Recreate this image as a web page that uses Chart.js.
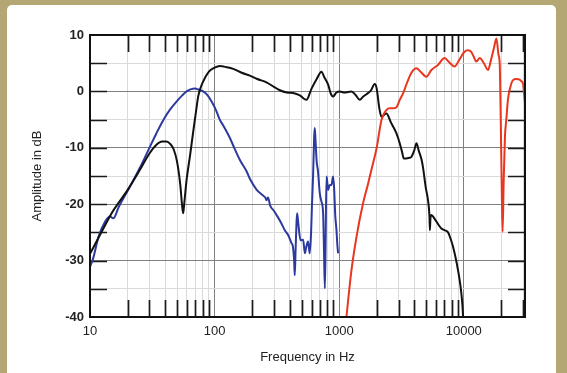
<!DOCTYPE html>
<html>
<head>
<meta charset="utf-8">
<script src="https://cdn.jsdelivr.net/npm/chart.js@4.4.0/dist/chart.umd.min.js"></script>
<style>
  html, body { margin: 0; padding: 0; }
  body { width: 567px; height: 373px; background: #b4a774; position: relative; overflow: hidden; }
  #panel { position: absolute; left: 7px; top: 5px; width: 549px; height: 380px; background: #fff; border-radius: 5px; }
  #chart { position: absolute; left: 0; top: 0; }
</style>
</head>
<body>
<div id="panel"></div>
<canvas id="chart" width="567" height="373"></canvas>
<script>
// tick labels
const xTickLabels = [10, 100, 1000, 10000];
const yTickLabels = [10, 0, -10, -20, -30, -40];

// black: main curve
const blackFreq = [10, 12.4, 15, 20, 25, 30, 34, 38, 41, 44, 47, 50, 53, 55, 56, 57, 59.6, 63.4, 67.5, 71, 74, 80, 90, 100, 110, 125, 141, 165, 192, 220, 261, 300, 334, 380, 427, 483, 546, 600, 660, 720, 760, 815, 860, 893, 950, 1012, 1100, 1254, 1350, 1463, 1560, 1654, 1800, 1929, 2000, 2100, 2183, 2393, 2600, 2877, 3061, 3200, 3300, 3600, 3800, 4000, 4170, 4350, 4570, 4710, 4950, 5163, 5300, 5346, 5400, 5495, 5800, 6200, 6610, 7000, 7480, 7800, 8190, 8600, 8990, 9300, 9560, 9760, 9900];
const blackDb = [-28.8, -24.9, -21.5, -17.5, -14.0, -11.0, -9.5, -8.9, -8.9, -9.3, -10.3, -12.5, -16.5, -20.5, -21.6, -20, -15.7, -11.5, -7, -3.5, -0.8, 1.5, 3.5, 4.2, 4.5, 4.3, 4.0, 3.3, 2.8, 2.2, 1.6, 0.8, 0.2, -0.2, -0.3, -0.7, -1.5, 0.5, 2.2, 3.5, 2.5, 1.2, -0.5, -0.9, -0.2, 0, -0.2, 0, -0.6, -1.5, -0.9, -0.5, 0.2, 1.3, 0.5, -3, -4.5, -3.9, -5.5, -7.4, -9.2, -10.8, -11.9, -11.8, -11.6, -10.5, -9.2, -10.5, -12.0, -13.5, -17, -19.3, -22, -24.6, -22.5, -21.9, -22.5, -23.5, -24.3, -24.6, -25, -26, -27.5, -29.5, -31.7, -33.7, -35.8, -38, -40.5];

// blue: woofer
const blueFreq = [10, 10.6, 11.7, 13.2, 14.5, 15.4, 17, 20.9, 25.2, 30.3, 34, 38.7, 44, 49.5, 55, 59.6, 65, 69.5, 75, 81, 88, 94.6, 103, 110, 117, 133, 145, 160, 181, 192, 217, 246, 255, 261, 268, 280, 300, 314, 340, 366, 390, 414, 425, 435, 440, 447, 455, 460, 470, 490, 514, 530, 545, 562, 572, 580, 595, 605, 617, 630, 637, 645, 660, 675, 699, 720, 743, 755, 767, 777, 791, 800, 815, 840, 867, 893, 910, 930, 951, 965, 980];
const blueDb = [-31.1, -29.6, -25.8, -23.1, -22.2, -22.5, -20.5, -16.9, -13.5, -9.8, -7.5, -5.1, -3.2, -1.8, -0.7, 0, 0.4, 0.5, 0.3, 0, -0.7, -1.8, -3.4, -5.0, -6.0, -8.3, -10.2, -12.2, -14.2, -15.5, -17.4, -18.5, -18.8, -19.3, -18.8, -20.3, -21.2, -21.9, -23.2, -24.6, -25.5, -26.9, -27.5, -30, -32.6, -28, -23, -21.6, -23.5, -26.4, -26.3, -28.7, -27.5, -26.6, -27.8, -28.7, -25, -20, -15.1, -8, -6.5, -8.5, -12.5, -14, -18.1, -19.5, -21.6, -28, -34.9, -28, -15.1, -15.8, -17.5, -16.6, -16.6, -15.1, -17, -22, -24.6, -27, -28.7];

// red: tweeter
const redFreq = [1143, 1250, 1377, 1556, 1700, 1815, 1872, 2000, 2183, 2393, 2547, 2705, 2886, 3061, 3262, 3500, 3800, 4168, 4500, 5012, 5495, 6209, 7025, 7600, 8451, 9000, 9550, 10100, 10800, 11480, 12000, 12600, 13430, 14500, 15650, 16500, 17500, 18270, 19000, 19420, 19800, 20200, 20500, 20900, 21400, 21930, 22600, 23330, 24820, 26500, 28070, 29000, 29860, 30500, 31190];
const redDb = [-40, -32, -25.8, -19.8, -16.5, -13.9, -12.7, -10, -5.1, -3.3, -3.0, -3.0, -2.8, -1.5, -0.3, 1.5, 3.3, 4.1, 3.5, 2.6, 3.8, 4.7, 5.9, 5.2, 4.4, 5.2, 6.2, 7.0, 7.3, 7.0, 6.2, 5.3, 5.9, 5.0, 3.8, 5.5, 7.8, 9.4, 6.5, 5, -5, -18, -24.9, -16, -8, -5.1, -1.5, 0.25, 2.0, 2.2, 2.1, 1.8, 1.4, -0.5, -2.7];

const toPoints = (fs, ds) => fs.map((f, i) => ({ x: f, y: ds[i] }));

// grid positions on the log axis: 1..9 times each decade
const xGridValues = [];
for (const d of [10, 100, 1000, 10000]) {
  for (let m = 1; m <= 9; m++) {
    if (m * d <= 31000) xGridValues.push(m * d);
  }
}

const font = { family: "'Liberation Sans', Arial, sans-serif", size: 13 };
const boldFont = { family: "'Liberation Sans', Arial, sans-serif", size: 13, weight: "bold" };

// short tick marks inside the frame + black frame
const frame = {
  id: "frame",
  beforeDatasetsDraw(chart) {
    const { ctx, chartArea: a, scales: { x, y } } = chart;
    ctx.save();
    ctx.strokeStyle = "#1a1a1a";
    ctx.lineWidth = 1.7;
    ctx.beginPath();
    for (const v of xGridValues) {
      if (xTickLabels.includes(v)) continue;
      const px = Math.round(x.getPixelForValue(v)) + 0.5;
      ctx.moveTo(px, a.top); ctx.lineTo(px, a.top + 17);
      ctx.moveTo(px, a.bottom); ctx.lineTo(px, a.bottom - 17);
    }
    for (const t of y.ticks) {
      if (t.value <= -40 || t.value >= 10) continue;
      const py = Math.round(y.getPixelForValue(t.value)) + 0.5;
      ctx.moveTo(a.left, py); ctx.lineTo(a.left + 17, py);
      ctx.moveTo(a.right, py); ctx.lineTo(a.right - 17, py);
    }
    ctx.stroke();
    ctx.restore();
  },
  afterDatasetsDraw(chart) {
    const { ctx, chartArea: a } = chart;
    ctx.save();
    ctx.strokeStyle = "#111";
    ctx.lineWidth = 2;
    ctx.strokeRect(a.left, a.top, a.right - a.left, a.bottom - a.top);
    ctx.restore();
  }
};

new Chart(document.getElementById("chart"), {
  type: "line",
  data: {
    datasets: [
      { data: toPoints(redFreq, redDb), borderColor: "#e8371f", borderWidth: 2 },
      { data: toPoints(blackFreq, blackDb), borderColor: "#111111", borderWidth: 2 },
      { data: toPoints(blueFreq, blueDb), borderColor: "#2c3a9e", borderWidth: 2 }
    ]
  },
  options: {
    responsive: false,
    animation: false,
    elements: {
      point: { radius: 0 },
      line: { cubicInterpolationMode: "monotone", fill: false }
    },
    layout: { padding: { left: 26, top: 35, right: 42, bottom: 4 } },
    plugins: { legend: { display: false }, tooltip: { enabled: false } },
    scales: {
      x: {
        type: "logarithmic",
        min: 10,
        max: 31000,
        afterBuildTicks: (s) => { s.ticks = xGridValues.map(v => ({ value: v })); },
        afterFit: (s) => { s.height = 52; },
        ticks: {
          autoSkip: false, maxRotation: 0, minRotation: 0, padding: 7,
          color: "#222", font,
          callback: (v) => xTickLabels.includes(v) ? String(v) : ""
        },
        grid: {
          drawTicks: false,
          color: (c) => xTickLabels.includes(c.tick.value) ? "#808080" : "#dadada",
          lineWidth: 1
        },
        border: { display: false },
        title: { display: true, text: "Frequency in Hz", color: "#222", font }
      },
      y: {
        type: "linear",
        min: -40,
        max: 10,
        afterFit: (s) => { s.width = 64; },
        ticks: {
          stepSize: 5, padding: 6, color: "#222", font: boldFont,
          callback: (v) => yTickLabels.includes(v) ? String(v) : ""
        },
        grid: {
          drawTicks: false,
          color: (c) => yTickLabels.includes(c.tick.value) ? "#808080" : "#dadada",
          lineWidth: 1
        },
        border: { display: false },
        title: { display: true, text: "Amplitude in dB", color: "#222", font }
      }
    }
  },
  plugins: [frame]
});
</script>
</body>
</html>
